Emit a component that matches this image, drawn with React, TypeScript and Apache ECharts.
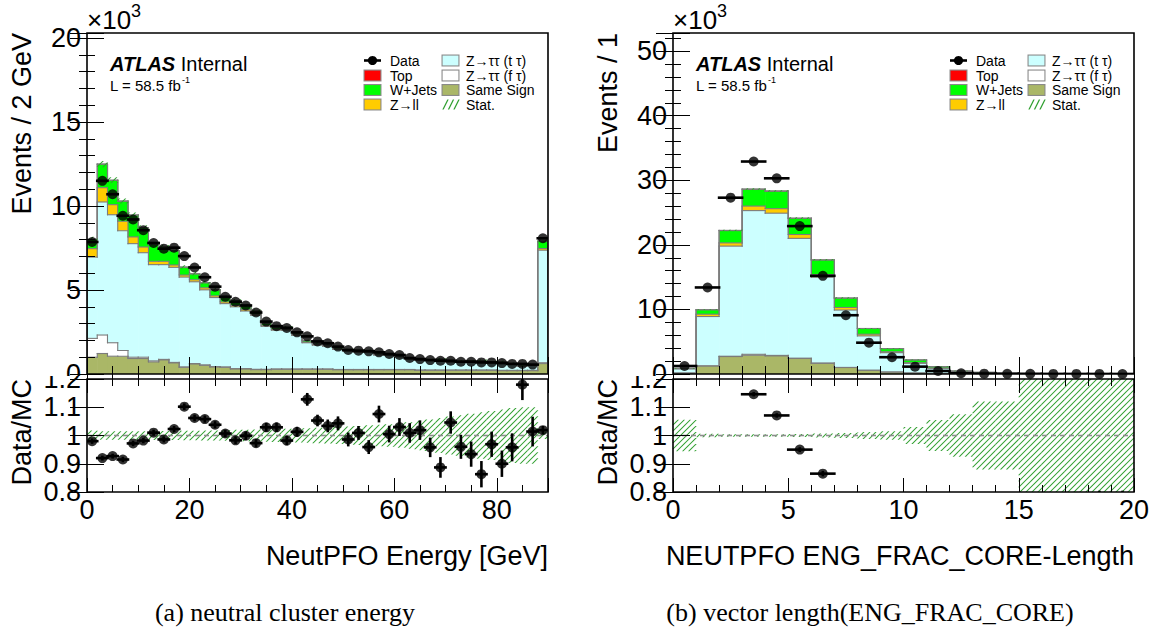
import React, { useEffect, useRef } from 'react';
import * as echarts from 'echarts';

const FONT = '"Liberation Sans", Arial, Helvetica, sans-serif';
const SERIF = '"Liberation Serif", "DejaVu Serif", "Times New Roman", serif';

// ================= Panel (a): NeutPFO Energy, 2 GeV bins, values in 10^3 events =================
const leftBinWidth = 2;
const leftXMax = 90;
const leftYMax = 20.3;
const leftData = [7.86, 11.5, 10.7, 9.42, 9.2, 8.56, 7.8, 7.46, 7.52, 7.02, 6.34, 5.76, 5.2, 4.6, 4.3, 4.08, 3.66, 3.12, 2.85, 2.74, 2.48, 2.24, 1.94, 1.83, 1.63, 1.43, 1.39, 1.35, 1.29, 1.19, 1.13, 0.95, 0.89, 0.83, 0.79, 0.79, 0.73, 0.73, 0.69, 0.69, 0.65, 0.6, 0.6, 0.56, 8.08];
const leftSameSign = [1.0, 1.22, 1.06, 1.06, 0.92, 0.92, 0.72, 0.84, 0.66, 0.4, 0.6, 0.52, 0.42, 0.4, 0.3, 0.3, 0.26, 0.26, 0.28, 0.28, 0.28, 0.28, 0.28, 0.28, 0.25, 0.25, 0.25, 0.25, 0.25, 0.25, 0.25, 0.25, 0.22, 0.22, 0.22, 0.22, 0.22, 0.22, 0.22, 0.22, 0.2, 0.2, 0.2, 0.2, 0.62];
const leftZttF = [1.12, 1.1, 0.8, 0.34, 0.08, 0.08, 0.06, 0.03, 0.03, 0.02, 0.02, 0.02, 0.02, 0.02, 0.02, 0.02, 0.02, 0.02, 0.02, 0.02, 0.02, 0.02, 0.02, 0.02, 0.02, 0.02, 0.02, 0.02, 0.02, 0.02, 0.02, 0.02, 0.02, 0.02, 0.02, 0.02, 0.02, 0.02, 0.02, 0.02, 0.02, 0.02, 0.02, 0.02, 0.05];
const leftZttT = [4.84, 7.92, 7.62, 7.13, 6.76, 6.22, 5.73, 5.64, 5.66, 5.35, 4.87, 4.47, 4.11, 3.77, 3.68, 3.43, 3.21, 2.56, 2.31, 2.31, 2.0, 1.56, 1.42, 1.36, 1.19, 1.09, 1.02, 1.05, 0.86, 0.84, 0.75, 0.61, 0.57, 0.56, 0.59, 0.45, 0.47, 0.49, 0.51, 0.42, 0.45, 0.36, 0.25, 0.29, 6.7];
const leftZll = [0.5, 0.85, 0.6, 0.56, 0.4, 0.34, 0.2, 0.2, 0.14, 0.12, 0.12, 0.12, 0.1, 0.1, 0.08, 0.08, 0.06, 0.06, 0.05, 0.05, 0.04, 0.04, 0.04, 0.03, 0.03, 0.03, 0.03, 0.03, 0.02, 0.02, 0.02, 0.02, 0.02, 0.02, 0.02, 0.02, 0.02, 0.02, 0.02, 0.02, 0.02, 0.02, 0.01, 0.01, 0.1];
const leftWJets = [0.55, 1.4, 1.45, 1.2, 1.3, 1.15, 1.0, 0.85, 0.85, 0.47, 0.35, 0.3, 0.35, 0.27, 0.28, 0.24, 0.2, 0.12, 0.1, 0.12, 0.1, 0.08, 0.07, 0.07, 0.06, 0.05, 0.05, 0.05, 0.04, 0.04, 0.04, 0.03, 0.03, 0.03, 0.03, 0.03, 0.02, 0.02, 0.02, 0.02, 0.02, 0.02, 0.02, 0.02, 0.43];
const leftTop = [0.01, 0.01, 0.01, 0.01, 0.01, 0.01, 0.01, 0.01, 0.01, 0.01, 0.01, 0.01, 0.01, 0.01, 0.01, 0.01, 0.01, 0.01, 0.01, 0.01, 0.01, 0.01, 0.01, 0.01, 0.01, 0.01, 0.01, 0.01, 0.01, 0.01, 0.01, 0.01, 0.01, 0.01, 0.01, 0.01, 0.01, 0.01, 0.01, 0.01, 0.01, 0.01, 0.01, 0.01, 0.01];
const leftRatio = [0.98, 0.92, 0.927, 0.915, 0.972, 0.982, 1.01, 0.986, 1.023, 1.102, 1.062, 1.058, 1.038, 1.007, 0.983, 0.999, 0.973, 1.029, 1.029, 0.982, 1.013, 1.128, 1.053, 1.034, 1.043, 0.986, 1.009, 0.959, 1.076, 1.005, 1.03, 1.009, 1.019, 0.958, 0.887, 1.046, 0.96, 0.934, 0.863, 0.969, 0.9, 0.958, 1.18, 1.014, 1.019];
const leftRatioErr = [0.005, 0.004, 0.004, 0.005, 0.005, 0.005, 0.006, 0.006, 0.006, 0.007, 0.007, 0.008, 0.008, 0.009, 0.009, 0.01, 0.01, 0.011, 0.012, 0.012, 0.013, 0.018, 0.016, 0.018, 0.02, 0.02, 0.02, 0.02, 0.025, 0.025, 0.027, 0.03, 0.03, 0.03, 0.032, 0.035, 0.038, 0.04, 0.042, 0.04, 0.042, 0.045, 0.05, 0.048, 0.01];
const leftStatRel = [0.018, 0.015, 0.015, 0.015, 0.015, 0.015, 0.016, 0.016, 0.016, 0.017, 0.017, 0.018, 0.018, 0.019, 0.02, 0.02, 0.021, 0.022, 0.023, 0.024, 0.025, 0.026, 0.027, 0.028, 0.03, 0.032, 0.034, 0.036, 0.038, 0.04, 0.043, 0.047, 0.052, 0.057, 0.062, 0.067, 0.072, 0.077, 0.082, 0.087, 0.092, 0.097, 0.1, 0.1, 0.012];

// ================= Panel (b): ENG_FRAC_CORE length, unit bins =================
const rightBinWidth = 1;
const rightXMax = 20;
const rightYMax = 52.8;
const rightData = [1.24, 13.4, 27.3, 32.9, 30.3, 22.9, 15.2, 9.1, 4.85, 2.6, 1.14, 0.47, 0.12, 0.05, 0.03, 0.02, 0.015, 0.01, 0.008, 0.006];
const rightSameSign = [0.15, 1.24, 2.7, 2.9, 2.8, 2.4, 1.66, 1.0, 0.57, 0.3, 0.15, 0.08, 0.04, 0.02, 0.01, 0.005, 0.004, 0.003, 0.002, 0.002];
const rightZttF = [0.0, 0.02, 0.05, 0.15, 0.08, 0.05, 0.03, 0.02, 0.01, 0.01, 0.01, 0, 0, 0, 0, 0, 0, 0, 0, 0];
const rightZttT = [0.65, 7.64, 17.05, 22.25, 22.02, 18.55, 13.31, 8.88, 5.32, 2.99, 1.5, 0.8, 0.32, 0.18, 0.08, 0.05, 0.03, 0.02, 0.015, 0.012];
const rightZll = [0.02, 0.36, 0.5, 0.7, 0.7, 0.6, 0.4, 0.4, 0.26, 0.15, 0.08, 0.04, 0.02, 0.01, 0.005, 0.003, 0.002, 0.001, 0.001, 0.001];
const rightWJets = [0.05, 0.68, 1.9, 2.6, 2.7, 2.5, 2.25, 1.45, 0.88, 0.48, 0.44, 0.22, 0.09, 0.05, 0.02, 0.01, 0.008, 0.005, 0.004, 0.003];
const rightTop = [0.005, 0.02, 0.04, 0.05, 0.05, 0.04, 0.03, 0.02, 0.01, 0.01, 0.005, 0.003, 0.002, 0.001, 0.001, 0, 0, 0, 0, 0];
const rightRatio = [1.43, 1.35, 1.23, 1.146, 1.071, 0.95, 0.865, 0.77, 0.69, 0.66, 0.52, 0.41, 0.26, 0.19, 0.26, 0.4, 0.5, 0.45, 0.5, 0.5];
const rightRatioErr = [0.02, 0.005, 0.004, 0.003, 0.003, 0.004, 0.005, 0.006, 0.008, 0.012, 0.02, 0.03, 0.05, 0.1, 0.15, 0.2, 0.25, 0.3, 0.3, 0.3];
const rightStatRel = [0.056, 0.006, 0.004, 0.004, 0.004, 0.005, 0.007, 0.009, 0.012, 0.015, 0.03, 0.055, 0.075, 0.12, 0.12, 0.5, 0.5, 0.5, 0.5, 0.5];

const legendCol1 = ['Data', 'Top', 'W+Jets', 'Z\u2192ll'];
const legendCol2 = ['Z\u2192\u03c4\u03c4 (t \u03c4)', 'Z\u2192\u03c4\u03c4 (f \u03c4)', 'Same Sign', 'Stat.'];

const C_SS = '#aab767';
const C_ZTTF = '#ffffff';
const C_ZTTT = '#ccffff';
const C_ZLL = '#ffcc00';
const C_WJ = '#00ff00';
const C_TOP = '#ff0000';
const C_HATCH = '#2f9f2f';
const C_OUTLINE = '#7c7c7c';

// ---------------- layout ----------------
const LM = { left: 87, top: 33, width: 461, height: 341 };
const LR = { left: 87, top: 379, width: 461, height: 113 };
const RM = { left: 673, top: 33, width: 461, height: 341 };
const RR = { left: 673, top: 379, width: 461, height: 113 };
const GRIDS = [LM, LR, RM, RR];

type Panel = {
  data: number[]; ss: number[]; zttF: number[]; zttT: number[]; zll: number[]; wj: number[]; top: number[];
  ratio: number[]; ratioErr: number[]; statRel: number[]; binWidth: number; xMax: number;
};

const leftPanel: Panel = {
  data: leftData, ss: leftSameSign, zttF: leftZttF, zttT: leftZttT, zll: leftZll, wj: leftWJets, top: leftTop,
  ratio: leftRatio, ratioErr: leftRatioErr, statRel: leftStatRel, binWidth: leftBinWidth, xMax: leftXMax,
};
const rightPanel: Panel = {
  data: rightData, ss: rightSameSign, zttF: rightZttF, zttT: rightZttT, zll: rightZll, wj: rightWJets, top: rightTop,
  ratio: rightRatio, ratioErr: rightRatioErr, statRel: rightStatRel, binWidth: rightBinWidth, xMax: rightXMax,
};

function panelGeom(p: Panel) {
  const n = p.data.length;
  const edges = Array.from({ length: n + 1 }, (_, i) => i * p.binWidth);
  const layers = [p.ss, p.zttF, p.zttT, p.zll, p.wj, p.top];
  const total = p.data.map((_, i) => layers.reduce((s, a) => s + a[i], 0));
  const centers = edges.slice(0, n).map((e) => e + p.binWidth / 2);
  return { n, edges, layers, total, centers };
}

// thin filled bars (used instead of stroked lines so the colour is kept)
function hBar(x1: number, x2: number, y: number, t: number, fill: string) {
  return { type: 'rect', shape: { x: Math.min(x1, x2) - t / 2, y: y - t / 2, width: Math.abs(x2 - x1) + t, height: t }, style: { fill } };
}
function vBar(x: number, y1: number, y2: number, t: number, fill: string) {
  return { type: 'rect', shape: { x: x - t / 2, y: Math.min(y1, y2) - t / 2, width: t, height: Math.abs(y2 - y1) + t }, style: { fill } };
}

// hatch strokes drawn as thin filled parallelograms
function hatchLines(xa: number, ya: number, xb: number, yb: number, sp: number, out: any[]) {
  if (xb - xa < 0.5 || yb - ya < 0.3) return;
  const w = 0.7;
  const start = Math.ceil((xa + ya) / sp) * sp;
  for (let c = start; c <= xb + yb; c += sp) {
    const xl = Math.max(xa, c - yb);
    const xr = Math.min(xb, c - ya);
    if (xr - xl > 0.2) {
      const y1 = c - xl, y2 = c - xr;
      out.push({
        type: 'polygon', z: 3, silent: true,
        shape: { points: [[xl - w, y1], [xr - w, y2], [xr + w, y2], [xl + w, y1]] },
        style: { fill: C_HATCH },
      });
    }
  }
}

function makeXAxes(grid: number, max: number, major: number, minor: number, labels: boolean, majorLen: number, minorLen: number) {
  const mk = (pos: string, interval: number, len: number, lab: boolean) => ({
    type: 'value', gridIndex: grid, position: pos, min: 0, max, interval, z: 10,
    axisLine: { show: false }, splitLine: { show: false },
    axisTick: { show: true, inside: true, length: len, lineStyle: { color: '#000', width: 1 } },
    axisLabel: lab ? {
      show: true, fontSize: 27, fontFamily: FONT, color: '#000', margin: 4,
      formatter: (v: number) => (Math.abs(v / major - Math.round(v / major)) < 1e-6 ? String(Math.round(v * 100) / 100) : ''),
    } : { show: false },
  });
  return [mk('bottom', major, majorLen, labels), mk('bottom', minor, minorLen, false), mk('top', major, majorLen, false), mk('top', minor, minorLen, false)];
}

function makeYAxes(grid: number, min: number, max: number, major: number, minor: number | null, majorLen: number, minorLen: number, fmt: (v: number) => string) {
  const mk = (pos: string, interval: number, len: number, lab: boolean, show = true) => ({
    type: 'value', gridIndex: grid, position: pos, min, max, interval, z: 10, show,
    axisLine: { show: false }, splitLine: { show: false },
    axisTick: { show: true, inside: true, length: len, lineStyle: { color: '#000', width: 1 } },
    axisLabel: lab ? { show: true, fontSize: 27, fontFamily: FONT, color: '#000', margin: 6, formatter: fmt } : { show: false },
  });
  return [
    mk('left', major, majorLen, true),
    minor ? mk('left', minor, minorLen, false) : mk('left', major, 0, false, false),
    mk('right', major, majorLen, false),
    minor ? mk('right', minor, minorLen, false) : mk('right', major, 0, false, false),
  ];
}

function panelSeries(p: Panel, gMain: number, gRatio: number) {
  const { n, edges, layers, total, centers } = panelGeom(p);
  const colors = [C_SS, C_ZTTF, C_ZTTT, C_ZLL, C_WJ, C_TOP];
  const ax = { xAxisIndex: gMain * 4, yAxisIndex: gMain * 4 };
  const rx = { xAxisIndex: gRatio * 4, yAxisIndex: gRatio * 4 };
  const idxData = centers.map((c, i) => [c, total[i]]);

  const fills = {
    type: 'custom', ...ax, z: 1, silent: true, clip: true, data: idxData,
    renderItem: (params: any, api: any) => {
      const i = params.dataIndex;
      let cum = 0;
      const children: any[] = [];
      layers.forEach((arr, k) => {
        const lo = cum;
        cum += arr[i];
        const p0 = api.coord([edges[i], cum]);
        const p1 = api.coord([edges[i + 1], lo]);
        children.push({ type: 'rect', shape: { x: p0[0], y: p0[1], width: p1[0] - p0[0] + 0.6, height: p1[1] - p0[1] }, style: { fill: colors[k] } });
      });
      return { type: 'group', children };
    },
  };

  const outlines = {
    type: 'custom', ...ax, z: 2, silent: true, clip: true, data: idxData,
    renderItem: (params: any, api: any) => {
      const i = params.dataIndex;
      const children: any[] = [];
      let cum = 0;
      let cumNext = 0;
      layers.forEach((arr) => {
        cum += arr[i];
        cumNext += i < n - 1 ? arr[i + 1] : 0;
        const pL = api.coord([edges[i], cum]);
        const pR = api.coord([edges[i + 1], cum]);
        const pN = api.coord([edges[i + 1], cumNext]);
        children.push(hBar(pL[0], pR[0], pL[1], 1.1, C_OUTLINE));
        children.push(vBar(pR[0], pR[1], pN[1], 1.1, C_OUTLINE));
        if (i === 0) {
          const p0 = api.coord([edges[0], 0]);
          children.push(vBar(p0[0], p0[1], pL[1], 1.1, C_OUTLINE));
        }
      });
      return { type: 'group', children };
    },
  };

  const dataXErr = {
    type: 'custom', ...ax, z: 5, silent: true, clip: true, data: centers.map((c, i) => [c, p.data[i]]),
    renderItem: (params: any, api: any) => {
      const i = params.dataIndex;
      const a = api.coord([edges[i], p.data[i]]);
      const b = api.coord([edges[i + 1], p.data[i]]);
      return hBar(a[0], b[0], a[1], 2.6, '#000');
    },
  };

  const dataPts = {
    type: 'scatter', name: 'Data', ...ax, z: 6, silent: true, clip: true,
    symbol: 'circle', symbolSize: 10, itemStyle: { color: '#000' },
    data: centers.map((c, i) => [c, p.data[i]]),
  };

  const unity = {
    type: 'custom', ...rx, z: 4, silent: true, clip: true, data: [[p.xMax / 2, 1]],
    renderItem: (params: any, api: any) => {
      const a = api.coord([0, 1]);
      const b = api.coord([p.xMax, 1]);
      const children: any[] = [];
      for (let x = a[0]; x < b[0]; x += 9) {
        children.push({ type: 'rect', shape: { x, y: a[1] - 0.8, width: Math.min(5, b[0] - x), height: 1.6 }, style: { fill: '#8c8c8c' } });
      }
      return { type: 'group', children };
    },
  };

  const ratioErr = {
    type: 'custom', ...rx, z: 5, silent: true, clip: true, data: centers.map((c, i) => [c, p.ratio[i]]),
    renderItem: (params: any, api: any) => {
      const i = params.dataIndex;
      const a = api.coord([edges[i], p.ratio[i]]);
      const b = api.coord([edges[i + 1], p.ratio[i]]);
      const u = api.coord([centers[i], p.ratio[i] + p.ratioErr[i]]);
      const d = api.coord([centers[i], p.ratio[i] - p.ratioErr[i]]);
      return { type: 'group', children: [hBar(a[0], b[0], a[1], 2.6, '#000'), vBar(u[0], u[1], d[1], 2.6, '#000')] };
    },
  };

  const ratioPts = {
    type: 'scatter', name: 'Data/MC', ...rx, z: 6, silent: true, clip: true,
    symbol: 'circle', symbolSize: 10, itemStyle: { color: '#000' },
    data: centers.map((c, i) => [c, p.ratio[i]]),
  };

  return [fills, outlines, dataXErr, dataPts, unity, ratioErr, ratioPts];
}

// Stat. hatch: positions obtained from the chart's own axes (convertToPixel)
function hatchGraphics(chart: any, p: Panel, gMain: number, gRatio: number, mainRect: any, ratioRect: any) {
  const { n, edges, total } = panelGeom(p);
  const out: any[] = [];
  const mainFinder = { xAxisIndex: gMain * 4, yAxisIndex: gMain * 4 };
  const ratioFinder = { xAxisIndex: gRatio * 4, yAxisIndex: gRatio * 4 };
  for (let i = 0; i < n; i++) {
    const a = chart.convertToPixel(mainFinder, [edges[i], total[i] * (1 + p.statRel[i])]);
    const b = chart.convertToPixel(mainFinder, [edges[i + 1], total[i] * (1 - p.statRel[i])]);
    hatchLines(a[0], Math.max(a[1], mainRect.top), b[0], Math.min(b[1], mainRect.top + mainRect.height), 6, out);
    const c = chart.convertToPixel(ratioFinder, [edges[i], 1 + p.statRel[i]]);
    const d = chart.convertToPixel(ratioFinder, [edges[i + 1], 1 - p.statRel[i]]);
    hatchLines(c[0], Math.max(c[1], ratioRect.top), d[0], Math.min(d[1], ratioRect.top + ratioRect.height), 6, out);
  }
  return out;
}

function textEl(text: string, x: number, y: number, size: number, opts: any = {}) {
  const align = opts.align || 'left';
  const va = opts.va || 'middle';
  return {
    type: 'text', x, y, z: 120, rotation: opts.rotation || 0, silent: true,
    style: {
      text, fontSize: size, fontFamily: opts.family || FONT, fontWeight: opts.weight || 'normal', fontStyle: opts.style || 'normal',
      fill: '#000', align, textAlign: align, verticalAlign: va, textVerticalAlign: va,
    },
  };
}

function panelGraphics(main: any, ratio: any, yTitle: string, xTitle: string, caption: string, captionX: number) {
  const L = main.left;
  const els: any[] = [];
  [main, ratio].forEach((g) => {
    els.push({ type: 'rect', z: 110, silent: true, shape: { x: g.left, y: g.top, width: g.width, height: g.height }, style: { fill: 'none', stroke: '#000', lineWidth: 1.6 } });
  });
  els.push(textEl('\u00d710', L, 20, 26));
  els.push(textEl('3', L + 44, 11, 18));
  els.push({
    type: 'text', x: L + 23, y: 64, z: 120, silent: true,
    style: {
      text: '{a|ATLAS} {b|Internal}', fontSize: 20, fontFamily: FONT, fill: '#000', verticalAlign: 'middle', textVerticalAlign: 'middle',
      rich: { a: { fontSize: 20, fontFamily: FONT, fontWeight: 'bold', fontStyle: 'italic', fill: '#000' }, b: { fontSize: 20, fontFamily: FONT, fill: '#000' } },
    },
  });
  els.push(textEl('L = 58.5 fb', L + 23, 85, 15));
  els.push(textEl('-1', L + 95, 80, 9));
  const rows = [60.5, 75.5, 90, 104.5];
  const s1 = L + 277, t1 = L + 303, s2 = L + 355, t2 = L + 379;
  const swatch = (x: number, y: number, fill: string) => [
    { type: 'rect', z: 120, silent: true, shape: { x: x - 0.5, y: y - 6, width: 18, height: 12 }, style: { fill: '#8a8a8a' } },
    { type: 'rect', z: 121, silent: true, shape: { x: x + 0.6, y: y - 4.9, width: 15.8, height: 9.8 }, style: { fill } },
  ];
  els.push({ type: 'rect', z: 120, silent: true, shape: { x: s1, y: rows[0] - 1.3, width: 17, height: 2.6 }, style: { fill: '#000' } });
  els.push({ type: 'circle', z: 121, silent: true, shape: { cx: s1 + 8.5, cy: rows[0], r: 4.6 }, style: { fill: '#000' } });
  els.push(...swatch(s1, rows[1], C_TOP));
  els.push(...swatch(s1, rows[2], C_WJ));
  els.push(...swatch(s1, rows[3], C_ZLL));
  els.push(...swatch(s2, rows[0], C_ZTTT));
  els.push(...swatch(s2, rows[1], C_ZTTF));
  els.push(...swatch(s2, rows[2], C_SS));
  [0, 1, 2].forEach((k) => {
    const x0 = s2 + 1 + k * 5.5;
    els.push({ type: 'polygon', z: 120, silent: true, shape: { points: [[x0 - 0.7, rows[3] + 5], [x0 + 4.3, rows[3] - 5], [x0 + 5.7, rows[3] - 5], [x0 + 0.7, rows[3] + 5]] }, style: { fill: C_HATCH } });
  });
  legendCol1.forEach((t, k) => els.push(textEl(t, t1, rows[k], 14)));
  legendCol2.forEach((t, k) => els.push(textEl(t, t2, rows[k], 14)));
  els.push(textEl(yTitle, L - 65, main.top, 27, { rotation: Math.PI / 2, align: 'right' }));
  els.push(textEl('Data/MC', L - 65, ratio.top, 27, { rotation: Math.PI / 2, align: 'right' }));
  els.push(textEl(xTitle, main.left + main.width, 556, 27, { align: 'right' }));
  els.push(textEl(caption, captionX, 612, 26, { align: 'center', family: SERIF }));
  return els;
}

function baseGraphics() {
  return [
    ...panelGraphics(LM, LR, 'Events / 2 GeV', 'NeutPFO Energy [GeV]', '(a) neutral cluster energy', 285),
    ...panelGraphics(RM, RR, 'Events / 1', 'NEUTPFO ENG_FRAC_CORE-Length', '(b) vector length(ENG_FRAC_CORE)', 870),
  ];
}

function buildOption() {
  const mainFmt = (major: number) => (v: number) => {
    if (v === 0) return '';
    return Math.abs(v / major - Math.round(v / major)) < 1e-6 ? String(Math.round(v)) : '';
  };
  const ratioFmt = (v: number) => {
    const r = Math.round(v * 10) / 10;
    if (r > 1.15) return '';
    return r === 1 ? '1' : r.toFixed(1);
  };
  const xAxis = [
    ...makeXAxes(0, leftXMax, 20, 5, false, 17, 8),
    ...makeXAxes(1, leftXMax, 20, 5, true, 14, 7),
    ...makeXAxes(2, rightXMax, 5, 1, false, 17, 8),
    ...makeXAxes(3, rightXMax, 5, 1, true, 14, 7),
  ];
  const yAxis = [
    ...makeYAxes(0, 0, leftYMax, 5, 1, 17, 8, mainFmt(5)),
    ...makeYAxes(1, 0.8, 1.2, 0.1, null, 17, 0, ratioFmt),
    ...makeYAxes(2, 0, rightYMax, 10, 2, 17, 8, mainFmt(10)),
    ...makeYAxes(3, 0.8, 1.2, 0.1, null, 17, 0, ratioFmt),
  ];
  return {
    animation: false,
    backgroundColor: '#ffffff',
    grid: GRIDS.map((g) => ({ ...g, show: false })),
    xAxis,
    yAxis,
    series: [...panelSeries(leftPanel, 0, 1), ...panelSeries(rightPanel, 2, 3)],
    graphic: baseGraphics(),
  };
}

// labels that ROOT cuts at the pad boundary
const cutLabels = [
  { text: '0', right: LM.left - 6, cy: LM.top + LM.height, clipTop: 350, clipBottom: 376 },
  { text: '1.2', right: LR.left - 6, cy: LR.top, clipTop: 376, clipBottom: 402 },
  { text: '0', right: RM.left - 6, cy: RM.top + RM.height, clipTop: 350, clipBottom: 376 },
  { text: '1.2', right: RR.left - 6, cy: RR.top, clipTop: 376, clipBottom: 402 },
];

export default function App() {
  const ref = useRef<HTMLDivElement>(null);
  useEffect(() => {
    document.body.style.margin = '0';
    const chart = echarts.init(ref.current as HTMLDivElement, null, { renderer: 'svg' });
    chart.setOption(buildOption() as any);
    const hatch = [
      ...hatchGraphics(chart, leftPanel, 0, 1, LM, LR),
      ...hatchGraphics(chart, rightPanel, 2, 3, RM, RR),
    ];
    chart.setOption({ graphic: [...baseGraphics(), ...hatch] } as any);
    return () => chart.dispose();
  }, []);
  return (
    <div style={{ position: 'relative', width: 1154, height: 635, background: '#fff', overflow: 'hidden' }}>
      <div ref={ref} style={{ position: 'absolute', left: 0, top: 0, width: 1154, height: 635 }} />
      {cutLabels.map((c, k) => (
        <div key={k} style={{ position: 'absolute', left: c.right - 60, top: c.clipTop, width: 60, height: c.clipBottom - c.clipTop, overflow: 'hidden' }}>
          <div style={{ position: 'absolute', right: 0, top: c.cy - c.clipTop - 15, height: 30, lineHeight: '30px', fontSize: 27, fontFamily: FONT, color: '#000', whiteSpace: 'nowrap' }}>
            {c.text}
          </div>
        </div>
      ))}
    </div>
  );
}
